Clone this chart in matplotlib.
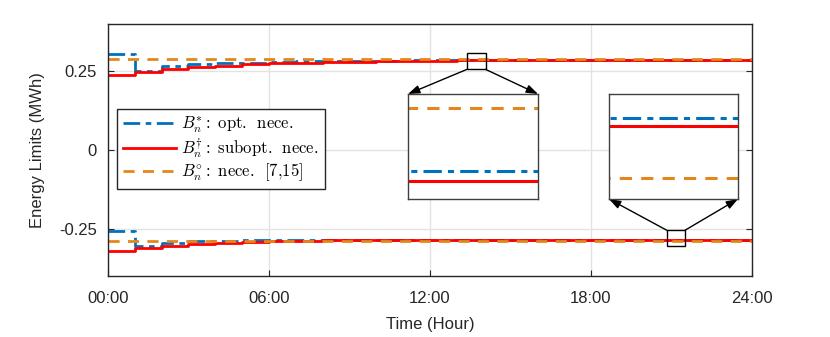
import numpy as np
import matplotlib.pyplot as plt
from matplotlib.patches import Rectangle

plt.rcParams['font.family'] = ['Liberation Sans', 'DejaVu Sans']
plt.rcParams['mathtext.fontset'] = 'cm'

# hourly energy limits (MWh), step at each hour
hours = np.arange(0, 25)
opt_up = [0.304, 0.252, 0.268, 0.272, 0.275, 0.277, 0.279, 0.281, 0.282, 0.283,
          0.2836, 0.2842, 0.2846, 0.2850, 0.2850, 0.2850, 0.2850, 0.2850, 0.2850,
          0.2850, 0.2850, 0.2850, 0.2850, 0.2850]
sub_up = [0.238, 0.249, 0.258, 0.264, 0.268, 0.272, 0.275, 0.277, 0.279, 0.280,
          0.281, 0.282, 0.283, 0.2845, 0.2845, 0.2845, 0.2845, 0.2845, 0.2845,
          0.2845, 0.2845, 0.2845, 0.2845, 0.2845]
nec_up = [0.288] * 24
opt_lo = [-0.256, -0.305, -0.296, -0.290, -0.288, -0.2868, -0.286, -0.2855, -0.2852,
          -0.2849, -0.2847, -0.2845, -0.2845, -0.2845, -0.2845, -0.2845, -0.2845,
          -0.2845, -0.2845, -0.2845, -0.2845, -0.2845, -0.2845, -0.2845]
sub_lo = [-0.320, -0.312, -0.304, -0.298, -0.294, -0.291, -0.289, -0.2875, -0.2865,
          -0.2858, -0.2853, -0.2850, -0.2850, -0.2850, -0.2850, -0.2850, -0.2850,
          -0.2850, -0.2850, -0.2850, -0.2850, -0.2850, -0.2850, -0.2850]
nec_lo = [-0.288] * 24

xtick_vals = [0, 6, 12, 18, 24]
xtick_labels = ['00:00', '06:00', '12:00', '18:00', '24:00']
ytick_vals = [-0.25, 0, 0.25]
ytick_labels = ['-0.25', '0', '0.25']

labels = [r'$B_n^{*}{:}\ \mathrm{opt.\ \,nece.}$',
          r'$B_n^{\dagger}{:}\ \mathrm{subopt.\ \,nece.}$',
          r'$B_n^{\circ}{:}\ \mathrm{nece.\ \,[7{,}15]}$']

c_blue = '#0072BD'
c_red = '#FF0000'
c_orange = '#E3871C'
edge = '#262626'
dashdot = (0, (6, 2, 2, 2))
dashed = (0, (4, 3))


def ext(v):
    return list(v) + [v[-1]]


def draw(a, lw=2.0):
    a.step(hours, ext(opt_up), where='post', color=c_blue, ls=dashdot, lw=lw, label=labels[0])
    a.step(hours, ext(sub_up), where='post', color=c_red, ls='-', lw=lw, label=labels[1])
    a.step(hours, ext(nec_up), where='post', color=c_orange, ls=dashed, lw=lw, label=labels[2])
    a.step(hours, ext(opt_lo), where='post', color=c_blue, ls=dashdot, lw=lw)
    a.step(hours, ext(sub_lo), where='post', color=c_red, ls='-', lw=lw)
    a.step(hours, ext(nec_lo), where='post', color=c_orange, ls=dashed, lw=lw)


fig = plt.figure(figsize=(8.3, 3.37), dpi=100)
ax = fig.add_axes([0.1301, 0.181, 0.7759, 0.7478])
ax.grid(True, color='#e3e3e3', lw=1)
ax.set_axisbelow(True)
draw(ax)
ax.set_xlim(0, 24)
ax.set_ylim(-0.4, 0.4)
ax.set_xticks(xtick_vals)
ax.set_xticklabels(xtick_labels)
ax.set_yticks(ytick_vals)
ax.set_yticklabels(ytick_labels)
ax.tick_params(axis='both', direction='in', length=4, labelsize=12, colors=edge,
               right=True, top=False)
ax.tick_params(axis='x', pad=11)
ax.tick_params(axis='y', pad=8)
for s in ax.spines.values():
    s.set_color(edge)
    s.set_linewidth(1)
ax.set_xlabel('Time (Hour)', fontsize=12, color=edge, labelpad=8)
ax.set_ylabel('Energy Limits (MWh)', fontsize=12, color=edge, labelpad=10)

leg = ax.legend(loc='upper left', bbox_to_anchor=(0.014, 0.663), borderaxespad=0,
                fancybox=False, framealpha=1, edgecolor=edge, fontsize=12,
                handlelength=3.2, handletextpad=0.3, labelspacing=0.05,
                borderpad=0.35)
leg.get_frame().set_linewidth(1)

# zoom boxes on the main axes
ax.add_patch(Rectangle((13.38, 0.256), 0.69, 0.051, fill=False, ec='k', lw=1, zorder=5))
ax.add_patch(Rectangle((20.83, -0.306), 0.67, 0.051, fill=False, ec='k', lw=1, zorder=5))

# insets
ins1 = fig.add_axes([0.4916, 0.4095, 0.1566, 0.3116])
draw(ins1, lw=2.2)
ins1.set_xlim(13.4, 14.1)
ins1.set_ylim(0.28364, 0.28868)
ins2 = fig.add_axes([0.7337, 0.4095, 0.1554, 0.3116])
draw(ins2, lw=2.2)
ins2.set_xlim(20.85, 21.5)
ins2.set_ylim(-0.28924, -0.28311)
for a in (ins1, ins2):
    a.set_xticks([])
    a.set_yticks([])
    for s in a.spines.values():
        s.set_color('#404040')
        s.set_linewidth(1)

arrow = dict(arrowstyle='-|>,head_length=0.7,head_width=0.25', color='k', lw=1,
             shrinkA=0, shrinkB=0)
ax.annotate('', xy=(0, 1), xycoords=ins1.transAxes, xytext=(13.38, 0.256),
            textcoords='data', arrowprops=arrow)
ax.annotate('', xy=(1, 1), xycoords=ins1.transAxes, xytext=(14.07, 0.256),
            textcoords='data', arrowprops=arrow)
ax.annotate('', xy=(0, 0), xycoords=ins2.transAxes, xytext=(20.83, -0.255),
            textcoords='data', arrowprops=arrow)
ax.annotate('', xy=(1, 0), xycoords=ins2.transAxes, xytext=(21.5, -0.255),
            textcoords='data', arrowprops=arrow)

fig.savefig('out.png', dpi=100)
